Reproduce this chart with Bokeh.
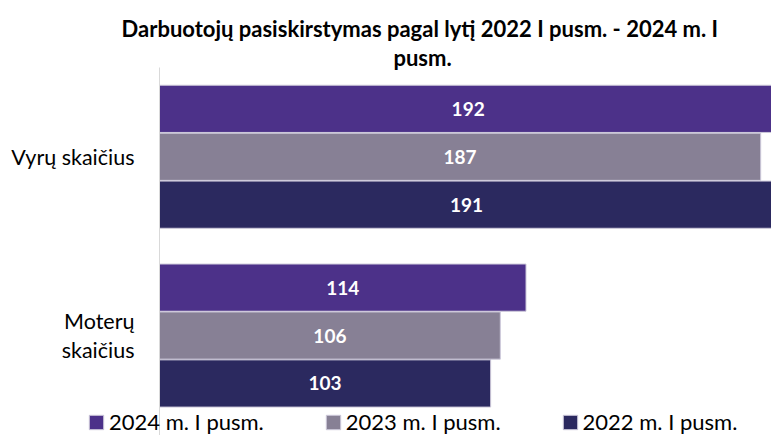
from bokeh.plotting import figure
from bokeh.models import (ColumnDataSource, Range1d, Legend, LegendItem, Label,
                          LinearAxis, FixedTicker)
from bokeh.transform import dodge
from bokeh.core.properties import value
from bokeh.embed import file_html
from bokeh.resources import INLINE

# ---- data ----
categories = ["Vyrų skaičius", "Moterų skaičius"]
category_labels = ["Vyrų skaičius", "Moterų\nskaičius"]
series = ["2024 m. I pusm.", "2023 m. I pusm.", "2022 m. I pusm."]
v2024 = [192, 114]
v2023 = [187, 106]
v2022 = [191, 103]
title_text = "Darbuotojų pasiskirstymas pagal lytį 2022 I pusm.  - 2024 m. I\npusm."

colors = ["#4C3189", "#878095", "#2B295F"]
offsets = [0.268, 0.0, -0.268]
FONT = "Lato"

n = len(categories)
cat_pos = [n - i - 0.5 for i in range(n)]  # top to bottom

p = figure(width=771, height=435,
           x_range=Range1d(-49.46, 190.36),
           y_range=Range1d(-0.059, 2.374),
           x_axis_location=None, y_axis_location=None,
           output_backend="svg", toolbar_location=None,
           min_border=0)

renderers = []
for vals, col, off in zip([v2024, v2023, v2022], colors, offsets):
    src = ColumnDataSource(dict(pos=cat_pos, val=vals,
                                mid=[v / 2 for v in vals],
                                lab=[str(v) for v in vals]))
    r = p.hbar(y=dodge("pos", off), left=0, right="val",
               height=0.264, source=src, fill_color=col,
               line_color="#cdc9da", line_width=1)
    p.text(x="mid", y=dodge("pos", off), text="lab", source=src,
           text_align="center", text_baseline="middle", text_color="white",
           text_font=value(FONT), text_font_style="bold", text_font_size="19px")
    renderers.append(r)

p.xgrid.visible = False
p.ygrid.visible = False
p.outline_line_color = None

ax = LinearAxis(fixed_location=0, ticker=FixedTicker(ticks=cat_pos),
                bounds=(-0.059, 2.0))
ax.axis_line_color = "#d9d9d9"
ax.major_tick_line_color = None
ax.minor_tick_line_color = None
ax.major_label_standoff = 19
ax.major_label_text_font = FONT
ax.major_label_text_font_size = "21.5px"
ax.major_label_text_color = "#000000"
ax.major_label_text_line_height = 1.1
ax.major_label_overrides = {pos: lab for pos, lab in zip(cat_pos, category_labels)}
p.add_layout(ax, "left")

# title
p.add_layout(Label(x=422, y=392.5, x_units="screen", y_units="screen",
                   text=title_text, text_align="center", text_baseline="middle",
                   text_font=FONT, text_font_style="bold", text_font_size="22px",
                   text_color="#000000", text_line_height=1.1))

legend = Legend(items=[LegendItem(label=s, renderers=[r]) for s, r in zip(series, renderers)],
                orientation="horizontal", location=(87, 0),
                glyph_width=18, glyph_height=18, label_standoff=4, spacing=60,
                padding=0, margin=0, border_line_color=None,
                background_fill_alpha=0,
                label_text_font=FONT, label_text_font_size="22px",
                label_text_color="#000000")
p.add_layout(legend, "center")

open("out.html", "w").write(file_html(p, INLINE))
